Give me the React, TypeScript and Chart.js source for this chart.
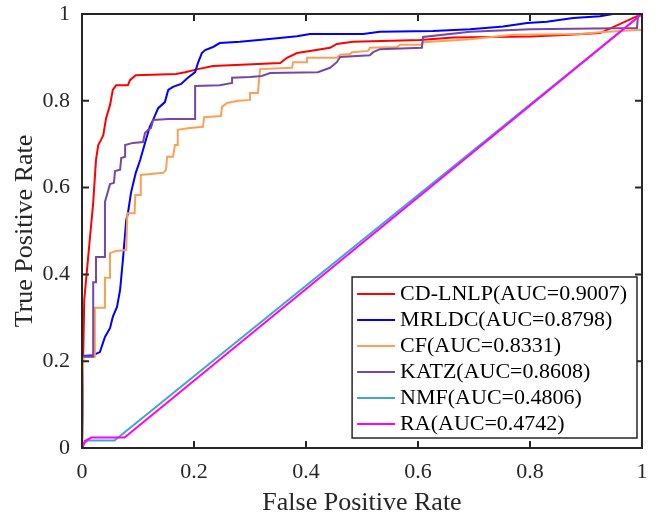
import { useEffect, useRef } from 'react';
import { Chart, registerables } from 'chart.js';

Chart.register(...registerables);

// Tick values and labels
const xTicks = [0, 0.2, 0.4, 0.6, 0.8, 1];
const xTickLabels = ['0', '0.2', '0.4', '0.6', '0.8', '1'];
const yTicks = [0, 0.2, 0.4, 0.6, 0.8, 1];
const yTickLabels = ['0', '0.2', '0.4', '0.6', '0.8', '1'];

// Series labels and colours
const seriesLabels = [
  'CD-LNLP(AUC=0.9007)',
  'MRLDC(AUC=0.8798)',
  'CF(AUC=0.8331)',
  'KATZ(AUC=0.8608)',
  'NMF(AUC=0.4806)',
  'RA(AUC=0.4742)',
];
const seriesColors = ['#FF0000', '#0000FF', '#FF9F55', '#7548A8', '#3FA8CC', '#FF00FF'];

// CD-LNLP ROC
const cdlnlpFPR = [0, 0.002, 0.004, 0.011, 0.020, 0.025, 0.029, 0.034, 0.038, 0.043, 0.050, 0.055, 0.061, 0.082, 0.086, 0.096, 0.168, 0.184, 0.207, 0.234, 0.354, 0.366, 0.384, 0.407, 0.443, 0.455, 0.484, 0.604, 0.663, 0.800, 0.871, 0.925, 1];
const cdlnlpTPR = [0, 0.203, 0.341, 0.440, 0.565, 0.664, 0.698, 0.710, 0.721, 0.760, 0.790, 0.825, 0.836, 0.836, 0.848, 0.859, 0.862, 0.866, 0.873, 0.880, 0.887, 0.899, 0.910, 0.915, 0.922, 0.931, 0.936, 0.940, 0.946, 0.948, 0.952, 0.956, 1];

// MRLDC ROC
const mrldcFPR = [0, 0.002, 0.020, 0.032, 0.041, 0.050, 0.055, 0.0625, 0.068, 0.073, 0.079, 0.082, 0.0875, 0.096, 0.104, 0.1125, 0.121, 0.127, 0.136, 0.148, 0.154, 0.1625, 0.177, 0.189, 0.202, 0.207, 0.214, 0.220, 0.234, 0.246, 0.282, 0.330, 0.384, 0.407, 0.502, 0.532, 0.627, 0.693, 0.752, 0.795, 0.830, 0.877, 0.925, 0.948, 1];
const mrldcTPR = [0, 0.212, 0.214, 0.221, 0.256, 0.276, 0.302, 0.325, 0.364, 0.433, 0.525, 0.541, 0.588, 0.634, 0.664, 0.703, 0.740, 0.756, 0.783, 0.797, 0.825, 0.832, 0.839, 0.853, 0.866, 0.887, 0.910, 0.917, 0.924, 0.933, 0.936, 0.942, 0.949, 0.954, 0.954, 0.959, 0.961, 0.965, 0.971, 0.979, 0.982, 0.991, 0.995, 1.0, 1];

// CF ROC
const cfFPR = [0, 0.002, 0.023, 0.023, 0.041, 0.041, 0.050, 0.050, 0.061, 0.079, 0.081, 0.094, 0.095, 0.104, 0.105, 0.145, 0.150, 0.152, 0.1625, 0.166, 0.171, 0.171, 0.189, 0.216, 0.218, 0.248, 0.250, 0.259, 0.279, 0.300, 0.300, 0.314, 0.318, 0.375, 0.377, 0.402, 0.402, 0.455, 0.461, 0.479, 0.482, 0.511, 0.514, 0.5625, 0.568, 0.605, 0.609, 0.693, 0.770, 0.889, 0.925, 0.991, 1, 1];
const cfTPR = [0, 0.210, 0.210, 0.323, 0.323, 0.392, 0.392, 0.449, 0.454, 0.456, 0.541, 0.541, 0.583, 0.583, 0.629, 0.634, 0.641, 0.671, 0.671, 0.698, 0.698, 0.733, 0.737, 0.740, 0.762, 0.765, 0.786, 0.795, 0.800, 0.802, 0.818, 0.818, 0.873, 0.876, 0.889, 0.889, 0.899, 0.899, 0.906, 0.908, 0.912, 0.915, 0.922, 0.924, 0.929, 0.929, 0.935, 0.942, 0.952, 0.954, 0.958, 0.963, 0.963, 1];

// KATZ ROC
const katzFPR = [0, 0, 0.020, 0.020, 0.025, 0.025, 0.041, 0.041, 0.050, 0.057, 0.059, 0.068, 0.070, 0.077, 0.077, 0.091, 0.109, 0.1125, 0.118, 0.123, 0.127, 0.154, 0.202, 0.202, 0.246, 0.268, 0.268, 0.300, 0.321, 0.336, 0.421, 0.443, 0.455, 0.461, 0.514, 0.520, 0.532, 0.607, 0.609, 0.693, 0.800, 0.991, 0.993, 1];
const katzTPR = [0, 0.210, 0.210, 0.382, 0.382, 0.440, 0.440, 0.567, 0.608, 0.611, 0.638, 0.641, 0.668, 0.671, 0.698, 0.703, 0.705, 0.726, 0.733, 0.737, 0.756, 0.758, 0.758, 0.834, 0.836, 0.841, 0.853, 0.855, 0.857, 0.864, 0.866, 0.876, 0.889, 0.901, 0.905, 0.912, 0.919, 0.922, 0.947, 0.959, 0.965, 0.968, 0.998, 1];

// NMF ROC
const nmfFPR = [0, 0.003, 0.010, 0.058, 1];
const nmfTPR = [0, 0.010, 0.017, 0.017, 1];

// RA ROC
const raFPR = [0, 0.002, 0.005, 0.017, 0.076, 1];
const raTPR = [0, 0.005, 0.016, 0.024, 0.024, 1];

const AXIS_COLOR = '#262626';
const FONT = '"Liberation Serif", "Times New Roman", serif';

const framePlugin = {
  id: 'matlabFrame',
  afterDraw(chart: any) {
    const { ctx, chartArea: ca, scales } = chart;
    ctx.save();
    // box
    ctx.strokeStyle = AXIS_COLOR;
    ctx.lineWidth = 2;
    ctx.strokeRect(ca.left, ca.top, ca.right - ca.left, ca.bottom - ca.top);
    // inward ticks
    const tl = 7;
    ctx.beginPath();
    xTicks.forEach((v) => {
      const px = scales.x.getPixelForValue(v);
      ctx.moveTo(px, ca.bottom);
      ctx.lineTo(px, ca.bottom - tl);
      ctx.moveTo(px, ca.top);
      ctx.lineTo(px, ca.top + tl);
    });
    yTicks.forEach((v) => {
      const py = scales.y.getPixelForValue(v);
      ctx.moveTo(ca.left, py);
      ctx.lineTo(ca.left + tl, py);
      ctx.moveTo(ca.right, py);
      ctx.lineTo(ca.right - tl, py);
    });
    ctx.stroke();

    // legend
    ctx.font = `22px ${FONT}`;
    const ds = chart.data.datasets;
    const labels: string[] = ds.map((d: any) => d.label);
    const maxW = Math.max(...labels.map((l) => ctx.measureText(l).width));
    const rowH = 26;
    const boxW = 5 + 38 + 5 + maxW + 10;
    const boxH = rowH * labels.length + 5;
    const right = ca.right - 5;
    const bottom = ca.bottom - 10;
    const left = right - boxW;
    const top = bottom - boxH;
    ctx.fillStyle = '#FFFFFF';
    ctx.fillRect(left, top, boxW, boxH);
    ctx.lineWidth = 1.5;
    ctx.strokeStyle = AXIS_COLOR;
    ctx.strokeRect(left, top, boxW, boxH);
    ctx.textBaseline = 'middle';
    ctx.textAlign = 'left';
    labels.forEach((l, i) => {
      const cy = top + 17 + rowH * i;
      ctx.strokeStyle = ds[i].borderColor;
      ctx.lineWidth = 2;
      ctx.beginPath();
      ctx.moveTo(left + 5, cy);
      ctx.lineTo(left + 43, cy);
      ctx.stroke();
      ctx.fillStyle = '#000000';
      ctx.fillText(l, left + 48, cy);
    });
    ctx.restore();
  },
};

export default function App() {
  const ref = useRef<HTMLCanvasElement>(null);
  useEffect(() => {
    document.body.style.margin = '0';
    const canvas = ref.current;
    if (!canvas) return;
    const series = [
      [cdlnlpFPR, cdlnlpTPR],
      [mrldcFPR, mrldcTPR],
      [cfFPR, cfTPR],
      [katzFPR, katzTPR],
      [nmfFPR, nmfTPR],
      [raFPR, raTPR],
    ];
    const datasets = series.map(([xs, ys], i) => ({
      label: seriesLabels[i],
      data: xs.map((x, j) => ({ x, y: ys[j] })),
      borderColor: seriesColors[i],
      backgroundColor: seriesColors[i],
      borderWidth: 2,
      pointRadius: 0,
      fill: false,
      tension: 0,
      order: series.length - i,
    }));
    const tickFont = { family: FONT, size: 22 };
    const titleFont = { family: FONT, size: 26 };
    const chart = new Chart(canvas, {
      type: 'line',
      data: { datasets },
      options: {
        responsive: false,
        animation: false,
        layout: { padding: { top: 14, right: 18, left: 0, bottom: 0 } },
        plugins: { legend: { display: false }, tooltip: { enabled: false } },
        scales: {
          x: {
            type: 'linear',
            min: 0,
            max: 1,
            afterBuildTicks: (s: any) => {
              s.ticks = xTicks.map((v) => ({ value: v }));
            },
            afterFit: (s: any) => {
              s.height = 68;
              s.paddingLeft = 0;
              s.paddingRight = 0;
            },
            grid: { display: false, drawTicks: false },
            border: { display: false },
            ticks: {
              callback: (_v: any, i: number) => xTickLabels[i],
              font: tickFont,
              color: AXIS_COLOR,
              padding: 11,
              maxRotation: 0,
              autoSkip: false,
            },
            title: {
              display: true,
              text: 'False Positive Rate',
              font: titleFont,
              color: AXIS_COLOR,
              padding: { top: 0, bottom: -3 },
            },
          },
          y: {
            type: 'linear',
            min: 0,
            max: 1,
            afterBuildTicks: (s: any) => {
              s.ticks = yTicks.map((v) => ({ value: v }));
            },
            afterFit: (s: any) => {
              s.width = 82;
              s.paddingTop = 0;
              s.paddingBottom = 0;
            },
            grid: { display: false, drawTicks: false },
            border: { display: false },
            ticks: {
              callback: (_v: any, i: number) => yTickLabels[i],
              font: tickFont,
              color: AXIS_COLOR,
              padding: 12,
              autoSkip: false,
            },
            title: {
              display: true,
              text: 'True Positive Rate',
              font: titleFont,
              color: AXIS_COLOR,
              padding: { top: 10, bottom: 0 },
            },
          },
        },
      },
      plugins: [framePlugin],
    } as any);
    return () => chart.destroy();
  }, []);
  return <canvas ref={ref} width={660} height={516} style={{ display: 'block' }} />;
}
